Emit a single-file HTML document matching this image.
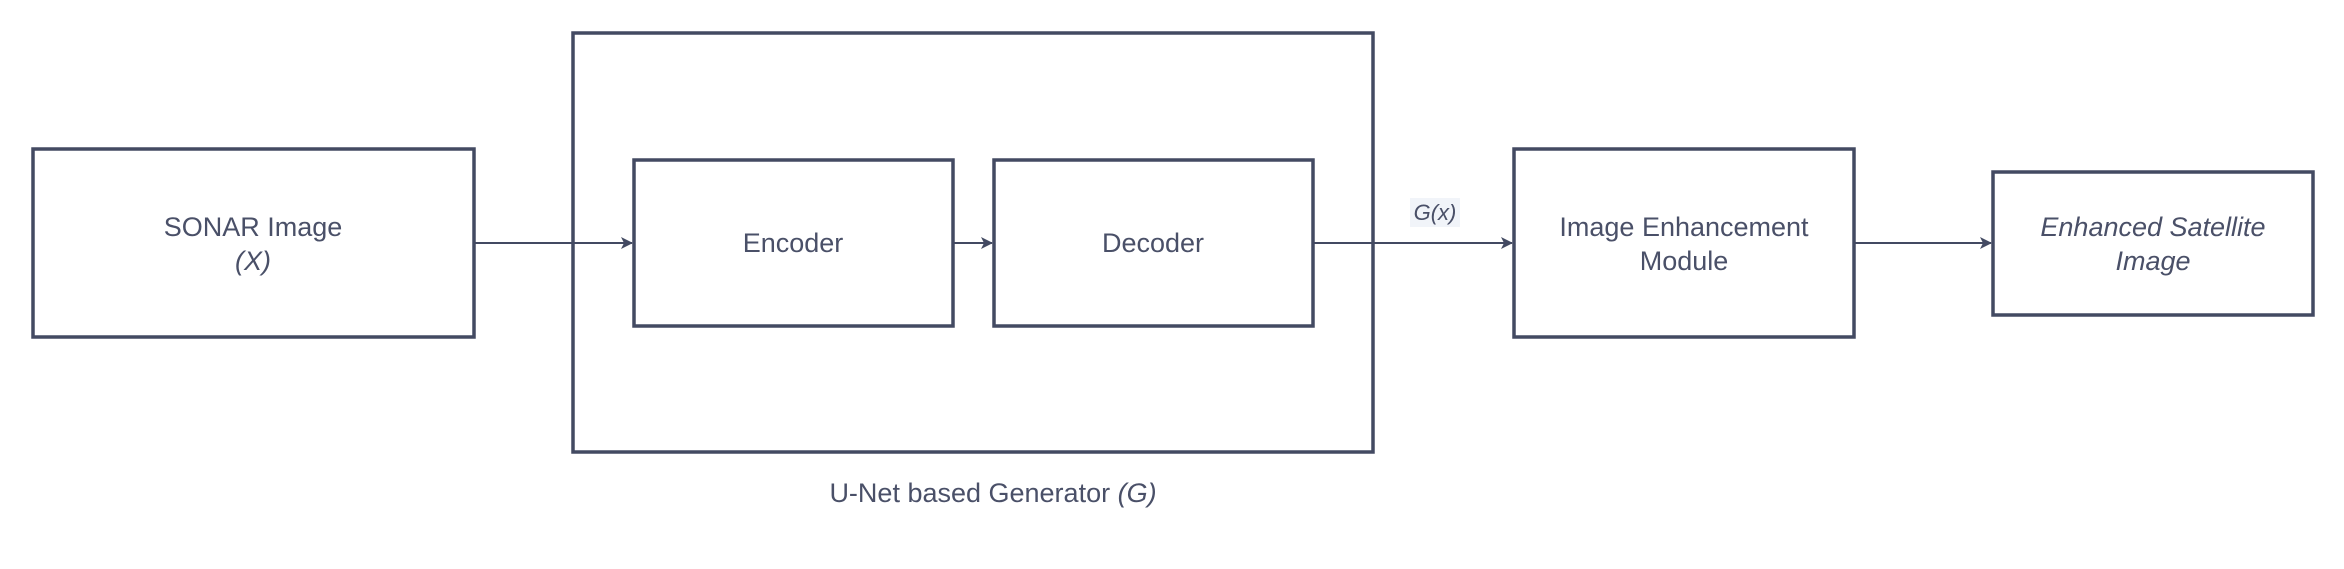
<!DOCTYPE html>
<html><head><meta charset="utf-8"><style>
html,body{margin:0;padding:0;background:#fff}
svg text{font-family:"Liberation Sans",sans-serif;fill:#4a5068;font-size:27px}
</style></head><body>
<svg width="2344" height="564" viewBox="0 0 2344 564" xmlns="http://www.w3.org/2000/svg">
<defs><marker id="a" markerWidth="12" markerHeight="12" refX="11" refY="6" orient="auto" markerUnits="userSpaceOnUse"><path d="M0,0 L12,6 L0,12 L3,6 Z" fill="#434a62"/></marker></defs>
<g fill="none" stroke="#434a62" stroke-width="3.5">
<rect x="33" y="149" width="441" height="188"/>
<rect x="573" y="33" width="800" height="419"/>
<rect x="634" y="160" width="319" height="166"/>
<rect x="994" y="160" width="319" height="166"/>
<rect x="1514" y="149" width="340" height="188"/>
<rect x="1993" y="172" width="320" height="143"/>
</g>
<g stroke="#434a62" stroke-width="2" fill="none">
<line x1="474" y1="243" x2="632" y2="243" marker-end="url(#a)"/>
<line x1="953" y1="243" x2="992" y2="243" marker-end="url(#a)"/>
<line x1="1313" y1="243" x2="1512" y2="243" marker-end="url(#a)"/>
<line x1="1854" y1="243" x2="1991" y2="243" marker-end="url(#a)"/>
</g>
<rect x="1410" y="198" width="50" height="29" fill="#f1f4f9"/>
<text x="1435" y="220" text-anchor="middle" font-style="italic" style="font-size:22px">G(x)</text>
<text x="253" y="236" text-anchor="middle">SONAR Image</text>
<text x="253" y="270" text-anchor="middle" font-style="italic">(X)</text>
<text x="793" y="252" text-anchor="middle">Encoder</text>
<text x="1153" y="252" text-anchor="middle">Decoder</text>
<text x="1684" y="236" text-anchor="middle">Image Enhancement</text>
<text x="1684" y="270" text-anchor="middle">Module</text>
<text x="2153" y="236" text-anchor="middle" font-style="italic">Enhanced Satellite</text>
<text x="2153" y="270" text-anchor="middle" font-style="italic">Image</text>
<text x="993" y="502" text-anchor="middle">U-Net based Generator <tspan font-style="italic">(G)</tspan></text>
</svg>
</body></html>
